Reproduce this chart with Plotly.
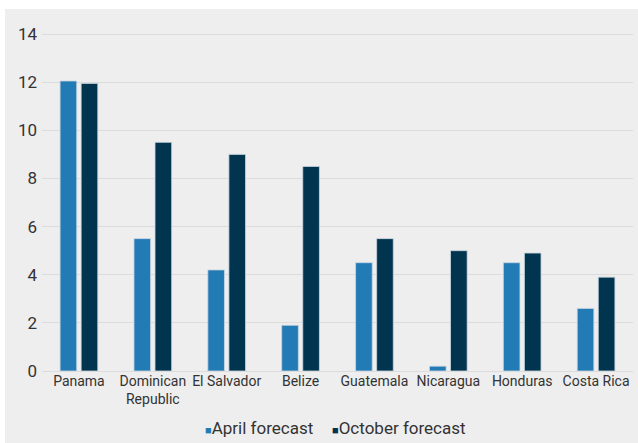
import plotly.graph_objects as go

countries = [
    "Panama",
    "Dominican<br>Republic",
    "El Salvador",
    "Belize",
    "Guatemala",
    "Nicaragua",
    "Honduras",
    "Costa Rica",
]
april_forecast = [12.05, 5.5, 4.2, 1.9, 4.5, 0.2, 4.5, 2.6]
october_forecast = [11.95, 9.5, 9.0, 8.5, 5.5, 5.0, 4.9, 3.9]
y_ticks = [0, 2, 4, 6, 8, 10, 12, 14]

series_names = ["April forecast", "October forecast"]
series_colors = ["#237BB6", "#00344F"]

W, H = 638, 443
L, R, T, B = 42, 5, 29, 72
pw, ph = W - L - R, H - T - B

fig = go.Figure()

for name, color, values in zip(
    series_names, series_colors, [april_forecast, october_forecast]
):
    fig.add_trace(
        go.Bar(
            x=countries,
            y=values,
            name=name,
            marker=dict(color=color, line=dict(color="#c9d6df", width=0.8)),
        )
    )

# grey panel behind everything, with a thin white strip on top and left
fig.add_shape(
    type="rect",
    xref="paper",
    yref="paper",
    x0=(5 - L) / pw,
    x1=(W + 2 - L) / pw,
    y0=-(B + 2) / ph,
    y1=(H - 9 - B) / ph,
    fillcolor="#eeeeee",
    line=dict(width=0),
    layer="below",
)

# legend drawn as text: small square glued to the label, like the original
for name, color, px_left in zip(series_names, series_colors, [203, 330]):
    fig.add_annotation(
        xref="paper",
        yref="paper",
        x=(px_left - L) / pw,
        y=-57 / ph,
        xanchor="left",
        yanchor="middle",
        showarrow=False,
        text=f"<span style='color:{color};font-size:11px'>■</span>{name}",
        font=dict(size=17, color="#333333"),
    )

fig.update_layout(
    width=W,
    height=H,
    margin=dict(l=L, r=R, t=T, b=B, autoexpand=False),
    paper_bgcolor="white",
    plot_bgcolor="rgba(0,0,0,0)",
    font=dict(family="Roboto", color="#333333"),
    barmode="group",
    bargap=0.43,
    bargroupgap=0.21,
    showlegend=False,
    xaxis=dict(
        tickfont=dict(size=14),
        showgrid=False,
        showline=False,
        ticks="",
        automargin=False,
    ),
    yaxis=dict(
        range=[0, 14.21],
        tickvals=y_ticks,
        tickfont=dict(size=17),
        ticklabelstandoff=4,
        gridcolor="#dcdcdc",
        gridwidth=1,
        zeroline=True,
        zerolinecolor="#dcdcdc",
        zerolinewidth=1,
        showline=False,
        ticks="",
        automargin=False,
    ),
)

fig.write_html(
    "out.html",
    config={"displayModeBar": False},
    post_script="document.body.style.margin='0px';document.body.style.overflow='hidden';",
)
